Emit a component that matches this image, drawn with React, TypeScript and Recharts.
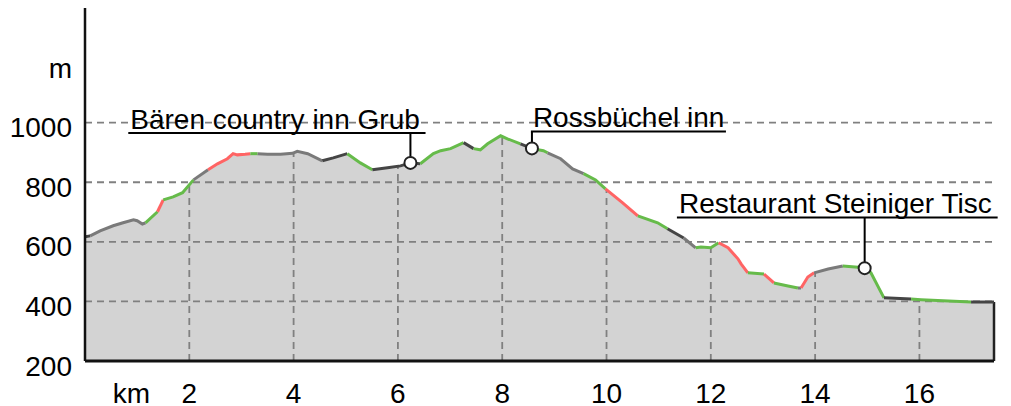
import React from "react";
import {
  ComposedChart,
  Area,
  Line,
  XAxis,
  YAxis,
  ReferenceLine,
  ReferenceDot,
} from "recharts";

// distance along route (km)
const kms = [
  0, 0.1, 0.29, 0.54, 0.73, 0.93, 1.0, 1.1, 1.16, 1.39, 1.5, 1.69, 1.87, 2.08, 2.36, 2.54, 2.73, 2.84,
  2.92, 3.07, 3.17, 3.31, 3.5, 3.75, 3.98, 4.07, 4.27, 4.55, 4.76, 5.03, 5.28, 5.51, 5.8, 6.05, 6.24,
  6.43, 6.68, 6.82, 7.01, 7.26, 7.45, 7.58, 7.72, 7.97, 8.1, 8.35, 8.58, 8.79, 8.87, 9.12, 9.35, 9.56,
  9.79, 9.98, 10.31, 10.6, 10.98, 11.17, 11.48, 11.71, 11.81, 12.0, 12.15, 12.33, 12.52, 12.58, 12.71,
  13.02, 13.21, 13.48, 13.67, 13.73, 13.86, 13.98, 14.25, 14.53, 14.94, 15.07, 15.32, 15.84, 16.03,
  16.99, 17.43,
];

// elevation (m)
const elevs = [
  617, 620, 637, 654, 664, 674, 671, 660, 664, 701, 741, 751, 765, 808, 842, 862, 879, 896, 892, 894,
  896, 896, 894, 894, 897, 904, 896, 872, 882, 896, 865, 842, 849, 855, 865, 862, 896, 906, 913, 933,
  913, 909, 929, 956, 946, 929, 913, 906, 899, 879, 845, 829, 808, 778, 731, 687, 664, 644, 613, 580,
  583, 580, 597, 580, 543, 526, 496, 492, 462, 452, 445, 445, 482, 496, 509, 519, 513, 496, 412, 408,
  406, 398, 398,
];

// surface/gradient class of the segment starting at each point
const segClass = [
  "d", "g", "g", "g", "g", "g", "g", "g", "G", "R", "G", "G", "G", "g", "R", "R", "R", "R", "R", "R",
  "G", "g", "g", "g", "g", "g", "g", "d", "d", "G", "G", "d", "d", "d", "d", "G", "G", "G", "G", "d",
  "G", "G", "G", "G", "G", "d", "G", "G", "g", "g", "g", "G", "G", "R", "R", "G", "G", "d", "g", "G",
  "G", "G", "R", "R", "R", "R", "G", "R", "G", "G", "g", "R", "R", "g", "g", "G", "G", "G", "d", "G",
  "G", "d", "d",
];

const palette: Record<string, string> = {
  G: "#66bb4a",
  R: "#ff6464",
  g: "#7a7a7a",
  d: "#454545",
};

const yTicks = [200, 400, 600, 800, 1000, 1200];
const yGrid = [200, 400, 600, 800, 1000];
const xTicks = [0.89, 2, 4, 6, 8, 10, 12, 14, 16];
const xGrid = [2, 4, 6, 8, 10, 12, 14, 16];

const poiNames = ["Bären country inn Grub", "Rossbüchel inn", "Restaurant Steiniger Tisc"];
const poiKm = [6.24, 8.57, 14.95];
const poiLabelElev = [965, 970, 682];
const poiLabelStart = [0.83, 8.55, 11.35];
const poiLabelEnd = [6.53, 12.29, 17.5];

const FONT = "'Liberation Sans', Arial, sans-serif";

function interp(x: number): number {
  for (let i = 0; i < kms.length - 1; i++) {
    if (x >= kms[i] && x <= kms[i + 1]) {
      const t = (x - kms[i]) / (kms[i + 1] - kms[i]);
      return elevs[i] + t * (elevs[i + 1] - elevs[i]);
    }
  }
  return elevs[elevs.length - 1];
}

type Run = { code: string; start: number; end: number };
const runs: Run[] = [];
for (let i = 0; i < kms.length - 1; i++) {
  const c = segClass[i];
  const last = runs[runs.length - 1];
  if (last && last.code === c && last.end === i) last.end = i + 1;
  else runs.push({ code: c, start: i, end: i + 1 });
}

const data = kms.map((km, i) => {
  const row: Record<string, number | null> = { km, elev: elevs[i] };
  runs.forEach((r, j) => {
    row[`r${j}`] = i >= r.start && i <= r.end ? elevs[i] : null;
  });
  return row;
});

const YTick = (props: any) => {
  const { x, y, payload } = props;
  const v = payload.value;
  return (
    <text x={x} y={y} dy={14.5} textAnchor="end" fontSize={28} fill="#000" fontFamily={FONT}>
      {v === 1200 ? "m" : String(v)}
    </text>
  );
};

const XTick = (props: any) => {
  const { x, y, payload } = props;
  const v = payload.value;
  return (
    <text x={x} y={y} dy={42} textAnchor="middle" fontSize={28} fill="#000" fontFamily={FONT}>
      {v === 0.89 ? "km" : String(v)}
    </text>
  );
};

const PoiText = (props: any) => {
  const { viewBox, text } = props;
  if (!viewBox) return null;
  return (
    <text x={viewBox.x + 2} y={viewBox.y - 4.5} fontSize={28} fill="#000" fontFamily={FONT}>
      {text}
    </text>
  );
};

export default function App() {
  return (
    <div style={{ width: 1003, height: 398 }}>
      <ComposedChart
        width={1003}
        height={398}
        data={data}
        margin={{ top: 0, right: 17, left: 0, bottom: 0 }}
        style={{ fontFamily: FONT }}
      >
        <XAxis
          type="number"
          dataKey="km"
          domain={[0, 17.43]}
          allowDataOverflow
          ticks={xTicks}
          tick={<XTick />}
          tickLine={false}
          tickSize={0}
          tickMargin={0}
          height={45}
          axisLine={{ stroke: "#111", strokeWidth: 3 }}
          interval={0}
        />
        <YAxis
          type="number"
          domain={[200, 1385]}
          allowDataOverflow
          ticks={yTicks}
          tick={<YTick />}
          tickLine={false}
          tickSize={0}
          tickMargin={13}
          width={77}
          axisLine={{ stroke: "#111", strokeWidth: 2.5 }}
          interval={0}
        />
        <Area
          type="linear"
          dataKey="elev"
          stroke="none"
          fill="#d3d3d3"
          fillOpacity={1}
          isAnimationActive={false}
          dot={false}
          activeDot={false}
        />
        {yGrid.map((v) => (
          <ReferenceLine
            key={`h${v}`}
            y={v}
            stroke="#808080"
            strokeWidth={1.8}
            strokeDasharray="7 5"
          />
        ))}
        {xGrid.map((v) => (
          <ReferenceLine
            key={`v${v}`}
            segment={[
              { x: v, y: 200 },
              { x: v, y: interp(v) },
            ]}
            stroke="#808080"
            strokeWidth={1.8}
            strokeDasharray="7 5"
          />
        ))}
        <ReferenceLine
          segment={[
            { x: kms[kms.length - 1], y: 200 },
            { x: kms[kms.length - 1], y: elevs[elevs.length - 1] },
          ]}
          stroke="#222"
          strokeWidth={2.5}
          ifOverflow="visible"
        />
        {runs.map((r, j) => (
          <Line
            key={`r${j}`}
            type="linear"
            dataKey={`r${j}`}
            stroke={palette[r.code]}
            strokeWidth={3}
            dot={false}
            activeDot={false}
            connectNulls={false}
            isAnimationActive={false}
          />
        ))}
        {poiNames.map((name, i) => (
          <ReferenceLine
            key={`pl${i}`}
            segment={[
              { x: poiLabelStart[i], y: poiLabelElev[i] },
              { x: poiLabelEnd[i], y: poiLabelElev[i] },
            ]}
            stroke="#000"
            strokeWidth={2}
            ifOverflow="visible"
            label={<PoiText text={name} />}
          />
        ))}
        {poiNames.map((name, i) => (
          <ReferenceLine
            key={`pv${i}`}
            segment={[
              { x: poiKm[i], y: interp(poiKm[i]) },
              { x: poiKm[i], y: poiLabelElev[i] },
            ]}
            stroke="#000"
            strokeWidth={2}
            ifOverflow="visible"
          />
        ))}
        {poiNames.map((name, i) => (
          <ReferenceDot
            key={`pd${i}`}
            x={poiKm[i]}
            y={interp(poiKm[i])}
            r={6}
            fill="#fff"
            stroke="#222"
            strokeWidth={2}
            ifOverflow="visible"
          />
        ))}
      </ComposedChart>
    </div>
  );
}
